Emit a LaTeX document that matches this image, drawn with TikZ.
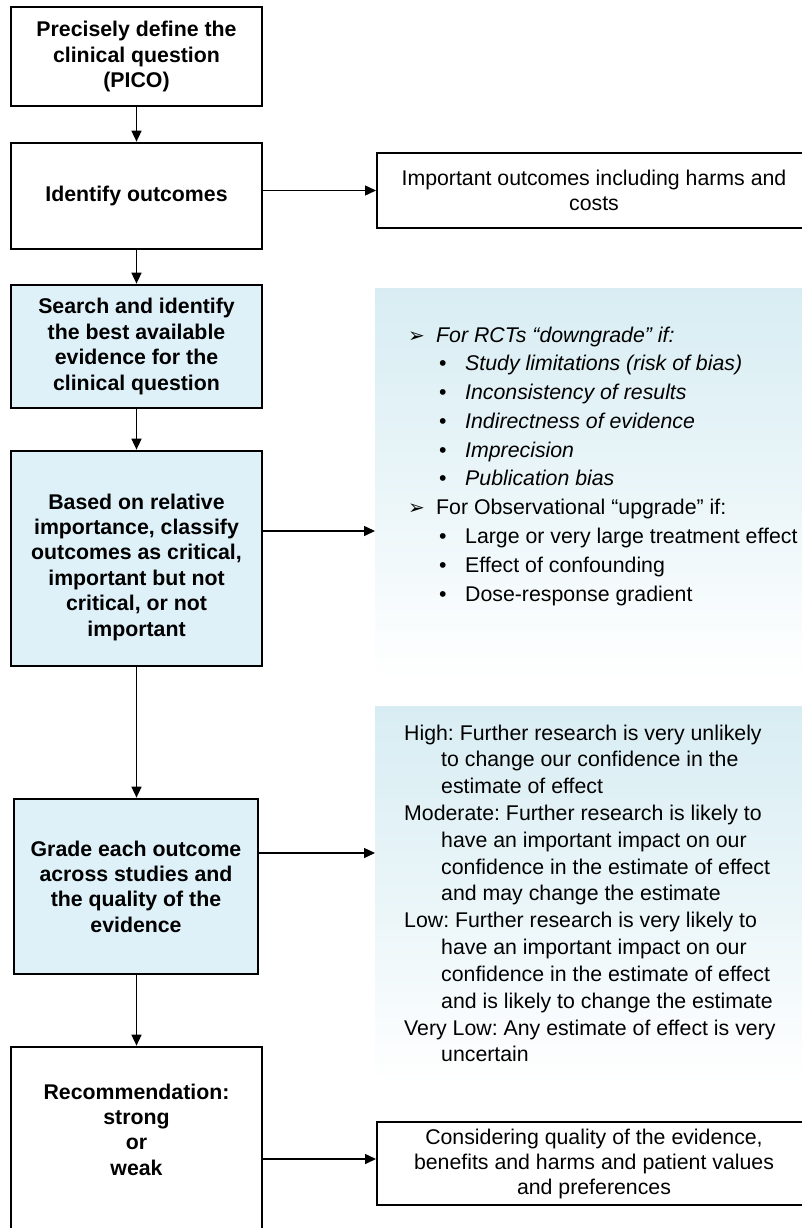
\documentclass[tikz,border=0pt]{standalone}
\usepackage{fontspec}
\setmainfont{Liberation Sans}
\newfontfamily\symfont{DejaVu Sans}
\usetikzlibrary{arrows.meta}
\definecolor{boxblue}{RGB}{222,241,248}
\definecolor{shadeblue}{RGB}{216,237,243}
\frenchspacing
\tikzset{
  lbox/.style={draw, line width=2.7pt, minimum width=251pt, align=center,
    font=\bfseries\fontsize{21.3}{25.4}\selectfont, inner sep=0pt},
  bluebox/.style={lbox, fill=boxblue},
  btxt/.style={align=center, inner sep=0pt, font=\bfseries\fontsize{21.3}{25.4}\selectfont},
  rbox/.style={draw, line width=2pt, minimum width=434pt, align=center,
    font=\fontsize{21.3}{25}\selectfont, inner sep=0pt},
  shadebox/.style={draw=none, inner sep=0pt, outer sep=0pt, top color=shadeblue, bottom color=white, middle color=shadeblue!55, anchor=north west},
  arr/.style={line width=1.5pt, -{Triangle[length=11pt,width=10pt]}},
  txt/.style={anchor=base west, inner sep=0pt, font=\fontsize{21.3}{25}\selectfont}
}
\newcommand{\listarrow}{\makebox[28pt][l]{\symfont\fontsize{20}{20}\selectfont ➢}}
\newcommand{\listdot}{\makebox[26pt][l]{•}}
\begin{document}
\begin{tikzpicture}[x=1pt,y=-1pt]
\useasboundingbox (0,0) rectangle (802,1228);
\fill[white] (0,0) rectangle (802,1228);

% shaded panels
\node[shadebox, minimum width=427pt, minimum height=392pt] (g1) at (375,288) {};
\node[shadebox, minimum width=427pt, minimum height=379pt] (g2) at (375,706) {};

% left column boxes
\node[lbox, minimum height=99pt] (b1) at (136.5,56.5) {Precisely define the\\clinical question\\(PICO)};
\node[lbox, minimum height=106pt] (b2) at (136.5,196) {Identify outcomes};
\node[bluebox, minimum height=123pt] (b3) at (136.5,346.5) {Search and identify\\the best available\\evidence for the\\clinical question};
\node[bluebox, minimum height=215pt] (b4) at (136.5,558.5) {};
\node[btxt] (t4) at (136.5,567) {Based on relative\\importance, classify\\outcomes as critical,\\important but not\\critical, or not\\important};
\node[bluebox, minimum width=244pt, minimum height=175pt] (b5) at (136,886.5) {Grade each outcome\\across studies and\\the quality of the\\evidence};
\node[lbox, minimum height=193pt] (b6) at (136.5,1143.5) {};
\node[btxt] (t6) at (136.5,1129.5) {Recommendation:\\strong\\or\\weak};

% right boxes
\node[rbox, minimum height=75pt] (r1) at (594,190.5) {Important outcomes including harms and\\costs};
\node[rbox, minimum height=83pt] (r2) at (594,1163.5) {Considering quality of the evidence,\\benefits and harms and patient values\\and preferences};

% vertical arrows
\draw[arr] (b1.south) -- (b2.north);
\draw[arr] (b2.south) -- (b3.north);
\draw[arr] (b3.south) -- (b4.north);
\draw[arr] (b4.south) -- (b4.south |- b5.north);
\draw[arr] (b5.south -| b4.south) -- (b6.north);

% horizontal arrows
\draw[arr] (b2.east |- r1.west) -- (r1.west);
\draw[arr] (b4.east |- 0,531) -- (g1.west |- 0,531);
\draw[arr] (b5.east |- 0,853) -- (g2.west |- 0,853);
\draw[arr] (b6.east |- 0,1159) -- (r2.west |- 0,1159);

% list 1
\node[txt] (l0) at (408,342) {\listarrow\itshape For RCTs “downgrade” if:};
\node[txt] (l1) at (439,370.8) {\listdot\itshape Study limitations (risk of bias)};
\node[txt] (l2) at (439,399.6) {\listdot\itshape Inconsistency of results};
\node[txt] (l3) at (439,428.3) {\listdot\itshape Indirectness of evidence};
\node[txt] (l4) at (439,457.1) {\listdot\itshape Imprecision};
\node[txt] (l5) at (439,485.9) {\listdot\itshape Publication bias};
\node[txt] (l6) at (408,514.7) {\listarrow For Observational “upgrade” if:};
\node[txt] (l7) at (439,543.5) {\listdot Large or very large treatment effect};
\node[txt] (l8) at (439,572.2) {\listdot Effect of confounding};
\node[txt] (l9) at (439,601) {\listdot Dose-response gradient};

% list 2
\foreach \xx/\ltext [count=\i from 0] in {
  404/{High: Further research is very unlikely},
  441/{to change our confidence in the},
  441/{estimate of effect},
  404/{Moderate: Further research is likely to},
  441/{have an important impact on our},
  441/{confidence in the estimate of effect},
  441/{and may change the estimate},
  404/{Low: Further research is very likely to},
  441/{have an important impact on our},
  441/{confidence in the estimate of effect},
  441/{and is likely to change the estimate},
  404/{Very Low: Any estimate of effect is very},
  441/{uncertain}}
  \node[txt] (q\i) at (\xx,{740+26.83*\i}) {\ltext};
\end{tikzpicture}
\end{document}
